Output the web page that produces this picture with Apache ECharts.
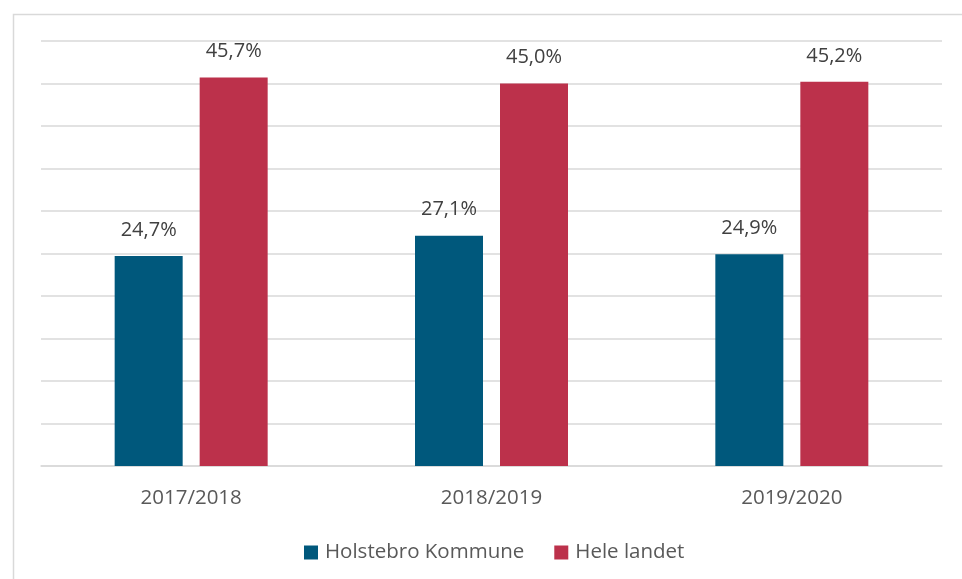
<!DOCTYPE html>
<html>
<head>
<meta charset="utf-8">
<script src="https://cdn.jsdelivr.net/npm/echarts@6/dist/echarts.min.js"></script>
<style>
  html, body { margin: 0; padding: 0; background: #fff; }
  #chart { width: 962px; height: 579px; }
</style>
</head>
<body>
<div id="chart"></div>
<script>
var categories = ["2017/2018", "2018/2019", "2019/2020"];
var holstebro = [24.7, 27.1, 24.9];
var heleLandet = [45.7, 45.0, 45.2];
var seriesNames = ["Holstebro Kommune", "Hele landet"];

var myChart = echarts.init(document.getElementById("chart"));
var font = "Open Sans";

// label i dansk format: komma som decimaltegn
function pct(p) {
  return p.value.toFixed(1).replace(".", ",") + "%";
}

var option = {
  animation: false,
  color: ["#00587c", "#bc314b"],
  graphic: [
    {
      type: "rect",
      left: 11,
      top: 12,
      shape: { width: 980, height: 600 },
      style: { fill: "none", stroke: "#d9d9d9", lineWidth: 1.5 },
      silent: true
    }
  ],
  grid: { left: 41, right: 20, top: 41, bottom: 113 },
  legend: {
    data: seriesNames,
    bottom: 11,
    left: 299, // legenden sidder lidt til højre for midten
    icon: "rect",
    itemWidth: 14,
    itemHeight: 14,
    itemGap: 30,
    textStyle: { color: "#595959", fontSize: 20.5, fontFamily: font, padding: [0, 0, 0, 2] }
  },
  xAxis: {
    type: "category",
    data: categories,
    axisLine: { lineStyle: { color: "#d9d9d9", width: 1.5 } },
    axisTick: { show: false },
    axisLabel: { color: "#595959", fontSize: 20.5, fontFamily: font, margin: 22 }
  },
  yAxis: {
    type: "value",
    min: 0,
    max: 50,
    interval: 5,
    axisLabel: { show: false },
    axisLine: { show: false },
    axisTick: { show: false },
    splitLine: { lineStyle: { color: "#d9d9d9", width: 1.5 } }
  },
  series: [
    {
      name: seriesNames[0],
      type: "bar",
      data: holstebro,
      barWidth: 68,
      barGap: "25%",
      label: {
        show: true,
        position: "top",
        distance: 16,
        formatter: pct,
        color: "#404040",
        fontSize: 20,
        fontFamily: font
      }
    },
    {
      name: seriesNames[1],
      type: "bar",
      data: heleLandet,
      barWidth: 68,
      label: {
        show: true,
        position: "top",
        distance: 16,
        formatter: pct,
        color: "#404040",
        fontSize: 20,
        fontFamily: font
      }
    }
  ]
};

myChart.setOption(option);
</script>
</body>
</html>
